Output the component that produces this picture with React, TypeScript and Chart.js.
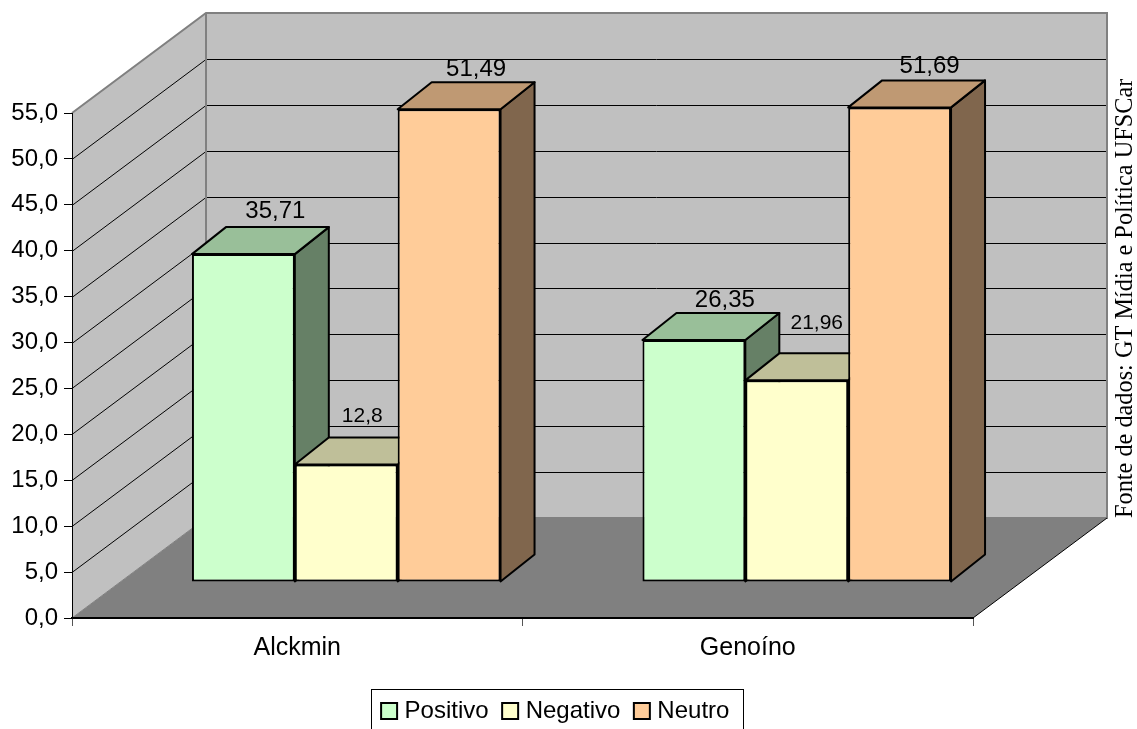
import React, { useEffect, useRef } from "react";
import { Chart, registerables } from "chart.js";

Chart.register(...registerables);

const candidates = ["Alckmin", "Genoíno"];
const seriesNames = ["Positivo", "Negativo", "Neutro"];
const positivo = [35.71, 26.35];
const negativo = [12.8, 21.96];
const neutro = [51.49, 51.69];
const sourceNote = "Fonte de dados: GT Mídia e Política UFSCar";

const WIDTH = 1137;
const HEIGHT = 729;
const SANS = '"Liberation Sans", Arial, sans-serif';
const SERIF = '"Liberation Serif", "Times New Roman", serif';

// Oblique projection: wall depth, how far the bars stand off the front edge, and bar depth.
const WALL = { dx: 134, dy: 100 };
const STANDOFF = { dx: 49, dy: 36 };
const DEPTH = { dx: 34, dy: 27 };

const faceColors = [
  { front: "#CCFFCC", top: "#99BF99", side: "#668066" },
  { front: "#FFFFCC", top: "#BFBF99", side: "#808066" },
  { front: "#FFCC99", top: "#BF9973", side: "#80664D" },
];

// Value labels sit over the rear edge of each bar's top face.
const labelSizes = [24, 21, 24];
const labelNudges = [
  [{ dx: -2, dy: 9 }, { dx: -3, dy: 6 }],
  [{ dx: -18, dy: 15 }, { dx: -14, dy: 24 }],
  [{ dx: -7, dy: 6 }, { dx: -4, dy: 7 }],
];

const formatPt = (v: number) => String(v).replace(".", ",");

function polygon(ctx: CanvasRenderingContext2D, pts: number[][], fill: string) {
  ctx.beginPath();
  pts.forEach(([x, y], i) => (i ? ctx.lineTo(x, y) : ctx.moveTo(x, y)));
  ctx.closePath();
  ctx.fillStyle = fill;
  ctx.fill();
}

const stagePlugin = {
  id: "stage3d",
  afterLayout(chart: any) {
    // Centre the legend under the whole figure, not just under the padded plot.
    const legend = chart.legend;
    const shift = 71;
    legend.left += shift;
    legend.right += shift;
    legend.top = 681;
    legend.bottom = 729;
    legend.adjustHitBoxes();
  },
  beforeDraw(chart: any) {
    const { ctx, chartArea: a, scales } = chart;
    const { dx, dy } = WALL;
    ctx.save();
    // floor
    polygon(ctx, [[a.left, a.bottom], [a.left + dx, a.bottom - dy], [a.right + dx, a.bottom - dy], [a.right, a.bottom]], "#808080");
    // side and back walls
    polygon(ctx, [[a.left, a.top], [a.left + dx, a.top - dy], [a.left + dx, a.bottom - dy], [a.left, a.bottom]], "#C0C0C0");
    polygon(ctx, [[a.left + dx, a.top - dy], [a.right + dx, a.top - dy], [a.right + dx, a.bottom - dy], [a.left + dx, a.bottom - dy]], "#C0C0C0");

    // grid lines run along the side wall and across the back wall
    ctx.strokeStyle = "#000";
    ctx.lineWidth = 1;
    for (const t of scales.y.ticks) {
      if (t.value === 0 || t.value === scales.y.max) continue;
      const y = Math.round(scales.y.getPixelForValue(t.value)) + 0.5;
      ctx.beginPath();
      ctx.moveTo(a.left, y);
      ctx.lineTo(a.left + dx, y - dy);
      ctx.lineTo(a.right + dx, y - dy);
      ctx.stroke();
    }

    // grey wall outline
    ctx.strokeStyle = "#808080";
    ctx.lineWidth = 2;
    ctx.beginPath();
    ctx.moveTo(a.left, a.top);
    ctx.lineTo(a.left + dx, a.top - dy);
    ctx.lineTo(a.right + dx, a.top - dy);
    ctx.lineTo(a.right + dx, a.bottom - dy);
    ctx.lineTo(a.left + dx, a.bottom - dy);
    ctx.lineTo(a.left + dx, a.top - dy);
    ctx.stroke();
    ctx.beginPath();
    ctx.moveTo(a.left, a.bottom);
    ctx.lineTo(a.left + dx, a.bottom - dy);
    ctx.lineWidth = 1;
    ctx.stroke();

    // front-right floor edge
    ctx.strokeStyle = "#000";
    ctx.lineWidth = 1;
    ctx.beginPath();
    ctx.moveTo(a.right, a.bottom);
    ctx.lineTo(a.right + dx, a.bottom - dy);
    ctx.stroke();
    ctx.restore();

    // source note, reading upward beside the back wall
    ctx.save();
    ctx.translate(1132, 518);
    ctx.rotate(-Math.PI / 2);
    ctx.font = `24.3px ${SERIF}`;
    ctx.fillStyle = "#000";
    ctx.textAlign = "left";
    ctx.textBaseline = "alphabetic";
    ctx.fillText(sourceNote, 0, 0);
    ctx.restore();
  },
  beforeDatasetsDraw(chart: any) {
    const { ctx } = chart;
    ctx.save();
    ctx.lineWidth = 2;
    ctx.lineJoin = "round";
    ctx.strokeStyle = "#000";
    chart.data.datasets.forEach((_: any, d: number) => {
      chart.getDatasetMeta(d).data.forEach((bar: any) => {
        const left = bar.x - bar.width / 2 + STANDOFF.dx;
        const right = bar.x + bar.width / 2 + STANDOFF.dx;
        const top = bar.y - STANDOFF.dy;
        const bottom = bar.base - STANDOFF.dy;
        const side = [[right, top], [right + DEPTH.dx, top - DEPTH.dy], [right + DEPTH.dx, bottom - DEPTH.dy], [right, bottom]];
        const lid = [[left, top], [left + DEPTH.dx, top - DEPTH.dy], [right + DEPTH.dx, top - DEPTH.dy], [right, top]];
        polygon(ctx, side, faceColors[d].side);
        ctx.stroke();
        polygon(ctx, lid, faceColors[d].top);
        ctx.stroke();
      });
    });
    ctx.restore();
    // the library's own bars become the front faces, pushed back off the axis edge
    ctx.save();
    ctx.translate(STANDOFF.dx, -STANDOFF.dy);
  },
  afterDatasetsDraw(chart: any) {
    const { ctx } = chart;
    ctx.restore();
    ctx.save();
    ctx.fillStyle = "#000";
    ctx.textAlign = "center";
    ctx.textBaseline = "alphabetic";
    chart.data.datasets.forEach((ds: any, d: number) => {
      ctx.font = `${labelSizes[d]}px ${SANS}`;
      chart.getDatasetMeta(d).data.forEach((bar: any, i: number) => {
        const nudge = labelNudges[d][i];
        const x = bar.x + STANDOFF.dx + DEPTH.dx + nudge.dx;
        const y = bar.y - STANDOFF.dy - DEPTH.dy - nudge.dy;
        ctx.fillText(formatPt(ds.data[i]), x, y);
      });
    });
    ctx.restore();
  },
  afterDraw(chart: any) {
    // legend frame, open at the canvas bottom
    const boxes = chart.legend.legendHitBoxes;
    const first = boxes[0];
    const last = boxes[boxes.length - 1];
    const { ctx } = chart;
    ctx.save();
    ctx.strokeStyle = "#000";
    ctx.lineWidth = 1;
    ctx.strokeRect(Math.round(first.left - 15) + 0.5, 689.5, Math.round(last.left + last.width - first.left + 28), 60);
    ctx.restore();
  },
};

export default function App() {
  const ref = useRef<HTMLCanvasElement>(null);
  useEffect(() => {
    const series = [positivo, negativo, neutro];
    const chart = new Chart(ref.current!, {
      type: "bar",
      data: {
        labels: candidates,
        datasets: series.map((values, d) => ({
          label: seriesNames[d],
          data: values,
          backgroundColor: faceColors[d].front,
          borderColor: "#000",
          borderWidth: 2,
          borderSkipped: false,
          categoryPercentage: 0.685,
          barPercentage: 1,
          clip: false,
        })),
      },
      options: {
        animation: false,
        responsive: false,
        devicePixelRatio: 1,
        layout: { padding: { top: 113, right: 164, left: 0, bottom: 0 } },
        plugins: {
          tooltip: { enabled: false },
          legend: {
            position: "bottom",
            labels: {
              usePointStyle: true,
              pointStyle: "rect",
              boxWidth: 7,
              boxHeight: 16,
              padding: 18,
              color: "#000",
              font: { family: SANS, size: 24 },
            },
            onClick: () => {},
          },
        },
        scales: {
          x: {
            afterFit: (s: any) => { s.height = 59; },
            grid: { drawOnChartArea: false, tickLength: 8, color: "#555", tickWidth: 1 },
            border: { color: "#000", width: 2 },
            ticks: { color: "#000", font: { family: SANS, size: 25 }, padding: 7, maxRotation: 0 },
          },
          y: {
            min: 0,
            max: 55,
            afterFit: (s: any) => { s.width = 72; },
            grid: { drawOnChartArea: false, tickLength: 8, color: "#000", tickWidth: 1 },
            border: { color: "#000", width: 1 },
            ticks: {
              stepSize: 5,
              color: "#000",
              padding: 6,
              font: { family: SANS, size: 24 },
              callback: (v: any) => Number(v).toFixed(1).replace(".", ","),
            },
          },
        },
      },
      plugins: [stagePlugin],
    } as any);
    return () => chart.destroy();
  }, []);
  return (
    <canvas
      ref={ref}
      width={WIDTH}
      height={HEIGHT}
      style={{ position: "absolute", left: 0, top: 0, display: "block" }}
    />
  );
}
